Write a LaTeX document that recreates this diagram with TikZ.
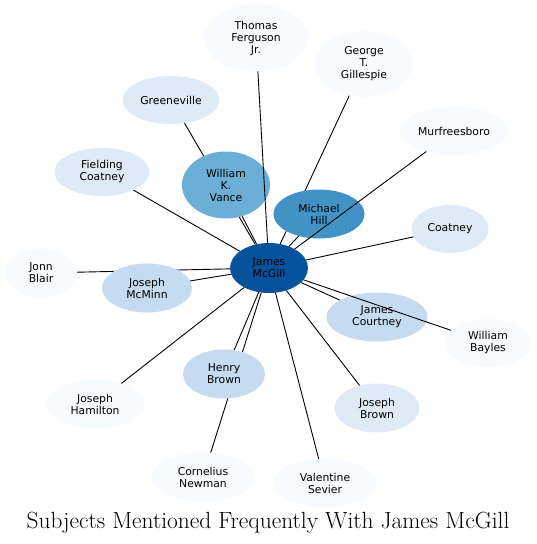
\documentclass[tikz,border=0pt]{standalone}
\usepackage{fontspec}
\usepackage{tikz}
\usetikzlibrary{
    shapes.geometric,
    backgrounds,
    positioning
}
\newfontfamily\nodefont{DejaVu Sans}
\definecolor{tone0}{HTML}{F7FBFF}
\definecolor{tone1}{HTML}{DEEBF7}
\definecolor{tone2}{HTML}{C6DBEF}
\definecolor{tone3}{HTML}{6BAED6}
\definecolor{tone4}{HTML}{4292C6}
\definecolor{tone5}{HTML}{08519C}
\tikzset{
    subject/.style={
        ellipse,
        inner sep=0pt,
        outer sep=0pt,
        align=center,
        font=\nodefont\fontsize{10.8}{12}\selectfont
    },
    link/.style={
        line width=0.9pt
    }
}

\begin{document}
\begin{tikzpicture}[
    x=1pt,
    y=-1pt
]
    \useasboundingbox (0,0) rectangle (537,544);

    % Sujetos
    \node[subject, fill=tone5, minimum width=78pt,  minimum height=50pt] (jm) at (269,268) {James\\McGill};
    \node[subject, fill=tone0, minimum width=104pt, minimum height=67pt] (tf) at (256,38)  {Thomas\\Ferguson\\Jr.};
    \node[subject, fill=tone0, minimum width=98pt,  minimum height=66pt] (gg) at (364,64)  {George\\T.\\Gillespie};
    \node[subject, fill=tone1, minimum width=97pt,  minimum height=48pt] (gv) at (171,100) {Greeneville};
    \node[subject, fill=tone0, minimum width=108pt, minimum height=48pt] (mb) at (454,131) {Murfreesboro};
    \node[subject, fill=tone1, minimum width=95pt,  minimum height=48pt] (fc) at (102,172) {Fielding\\Coatney};
    \node[subject, fill=tone3, minimum width=88pt,  minimum height=67pt] (wv) at (226,185) {William\\K.\\Vance};
    \node[subject, fill=tone4, minimum width=91pt,  minimum height=49pt] (mh) at (319,214) {Michael\\Hill};
    \node[subject, fill=tone1, minimum width=77pt,  minimum height=48pt] (co) at (450,229) {Coatney};
    \node[subject, fill=tone0, minimum width=72pt,  minimum height=49pt] (jb) at (41,273)  {Jonn\\Blair};
    \node[subject, fill=tone2, minimum width=90pt,  minimum height=49pt] (jmm) at (147,288) {Joseph\\McMinn};
    \node[subject, fill=tone2, minimum width=101pt, minimum height=49pt] (jc) at (377,317) {James\\Courtney};
    \node[subject, fill=tone0, minimum width=87pt,  minimum height=48pt] (wb) at (488,343) {William\\Bayles};
    \node[subject, fill=tone0, minimum width=100pt, minimum height=48pt] (jh) at (95,404)  {Joseph\\Hamilton};
    \node[subject, fill=tone2, minimum width=82pt,  minimum height=49pt] (hb) at (224,374) {Henry\\Brown};
    \node[subject, fill=tone1, minimum width=85pt,  minimum height=49pt] (jbr) at (377,408) {Joseph\\Brown};
    \node[subject, fill=tone0, minimum width=103pt, minimum height=49pt] (cn) at (203,477) {Cornelius\\Newman};
    \node[subject, fill=tone0, minimum width=104pt, minimum height=48pt] (vs) at (325,483) {Valentine\\Sevier};

    % Titulo
    \node (title) at (268,523) {\fontsize{23.4}{27}\selectfont Subjects Mentioned Frequently With James McGill};

    % Menciones (detras de los nodos)
    \begin{pgfonlayer}{background}
        \path[link]
            (jm)
                edge (gg)
                edge (gv)
                edge (fc)
                edge (co)
                edge (wv)
                edge (mh)
                edge (jb)
                edge (jmm)
                edge (jc)
                edge (jh)
                edge (hb)
                edge (jbr)
                edge (cn)
                edge (vs);
    \end{pgfonlayer}

    % Menciones (encima)
    \path[link]
        (jm)
            edge (tf)
            edge (mb)
            edge (wb);

\end{tikzpicture}
\end{document}
